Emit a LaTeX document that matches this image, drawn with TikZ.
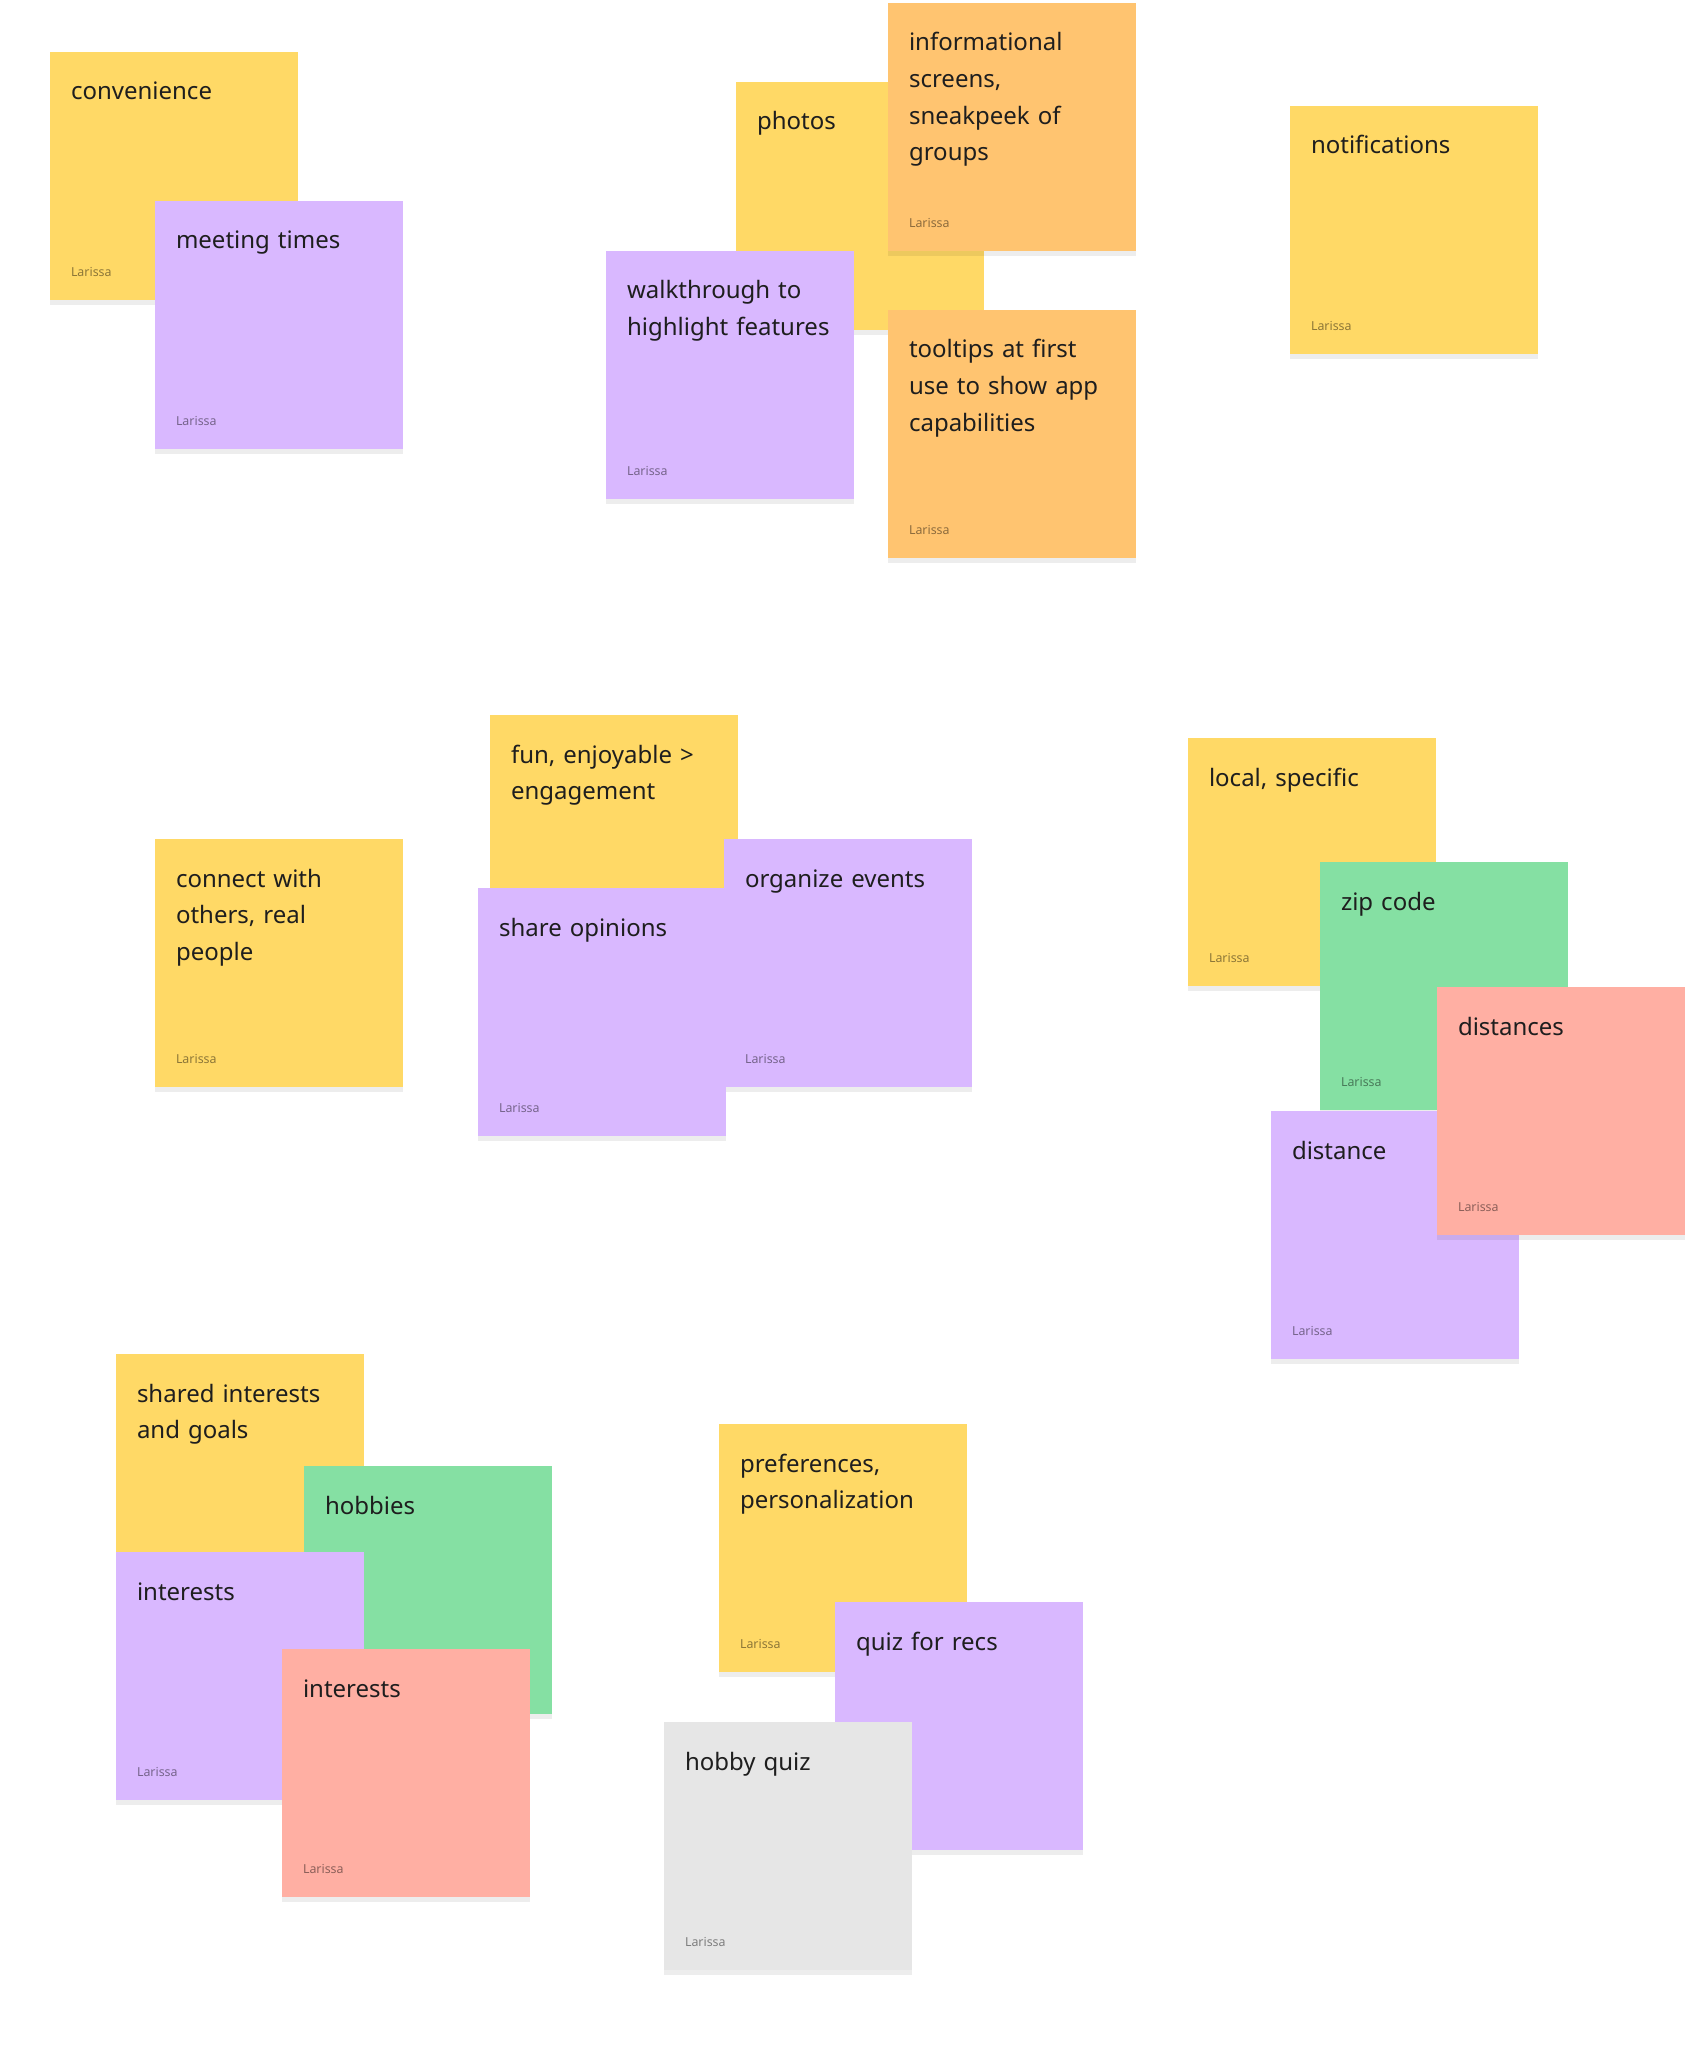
\documentclass[tikz,border=0pt]{standalone}
\usepackage{fontspec}
\setmainfont{Noto Sans}
\usetikzlibrary{shadows}
\definecolor{stickyyellow}{HTML}{FFD966}
\definecolor{stickyorange}{HTML}{FFC470}
\definecolor{stickyviolet}{HTML}{D9B8FF}
\definecolor{stickygreen}{HTML}{85E0A3}
\definecolor{stickyred}{HTML}{FFAFA3}
\definecolor{stickygrey}{HTML}{E6E6E6}
\definecolor{inkdark}{HTML}{1E1E1E}

\begin{document}
\begin{tikzpicture}[x=0.5pt, y=-0.5pt,
      sticky/.style={fill=#1, anchor=north west, inner sep=0pt,
                     minimum width=124pt, minimum height=124pt,
                     drop shadow={shadow xshift=0pt, shadow yshift=-2.5pt,
                                  fill=black, opacity=0.07}},
      title/.style={anchor=base west, inner sep=0pt, xshift=10.3pt, yshift=-24pt,
                    text width=118pt, align=left, text=inkdark,
                    font=\fontsize{12}{18.3}\selectfont},
      author/.style={anchor=base west, inner sep=0pt, xshift=10.3pt, yshift=12pt,
                     font=\fontsize{6.2}{7}\selectfont, text=black, text opacity=0.45}
    ]
    \fill[white] (0,0) rectangle (1696,2048);
    \useasboundingbox (0,0) rectangle (1696,2048);

    % top left
    \node[sticky=stickyyellow, label={[title]north west:{convenience}},
          label={[author]south west:Larissa}] (conv) at (50,52) {};
    \node[sticky=stickyviolet, label={[title]north west:{meeting times}},
          label={[author]south west:Larissa}] (meet) at (155,201) {};

    % top middle
    \node[sticky=stickyyellow, label={[title]north west:{photos}},
          label={[author]south west:Larissa}] (photos) at (736,82) {};
    \node[sticky=stickyorange,
          label={[title]north west:{informational\\screens,\\sneakpeek of\\groups}},
          label={[author]south west:Larissa}] (info) at (888,3) {};
    \node[sticky=stickyviolet,
          label={[title]north west:{walkthrough to\\highlight features}},
          label={[author]south west:Larissa}] (walk) at (606,251) {};
    \node[sticky=stickyorange,
          label={[title]north west:{tooltips at first\\use to show app\\capabilities}},
          label={[author]south west:Larissa}] (tips) at (888,310) {};

    % top right
    \node[sticky=stickyyellow, label={[title]north west:{notifications}},
          label={[author]south west:Larissa}] (notif) at (1290,106) {};

    % middle row
    \node[sticky=stickyyellow,
          label={[title]north west:{connect with\\others, real\\people}},
          label={[author]south west:Larissa}] (connect) at (155,839) {};
    \node[sticky=stickyyellow,
          label={[title]north west:{fun, enjoyable >\\engagement}},
          label={[author]south west:Larissa}] (fun) at (490,715) {};
    \node[sticky=stickyviolet, label={[title]north west:{organize events}},
          label={[author]south west:Larissa}] (events) at (724,839) {};
    \node[sticky=stickyviolet, label={[title]north west:{share opinions}},
          label={[author]south west:Larissa}] (opinions) at (478,888) {};

    % right cluster
    \node[sticky=stickyyellow, label={[title]north west:{local, specific}},
          label={[author]south west:Larissa}] (local) at (1188,738) {};
    \node[sticky=stickygreen, label={[title]north west:{zip code}},
          label={[author]south west:Larissa}] (zip) at (1320,862) {};
    \node[sticky=stickyviolet, label={[title]north west:{distance}},
          label={[author]south west:Larissa}] (dist) at (1271,1111) {};
    \node[sticky=stickyred, label={[title]north west:{distances}},
          label={[author]south west:Larissa}] (dists) at (1437,987) {};

    % bottom left
    \node[sticky=stickyyellow,
          label={[title]north west:{shared interests\\and goals}},
          label={[author]south west:Larissa}] (shared) at (116,1354) {};
    \node[sticky=stickygreen, label={[title]north west:{hobbies}},
          label={[author]south west:Larissa}] (hobbies) at (304,1466) {};
    \node[sticky=stickyviolet, label={[title]north west:{interests}},
          label={[author]south west:Larissa}] (intA) at (116,1552) {};
    \node[sticky=stickyred, label={[title]north west:{interests}},
          label={[author]south west:Larissa}] (intB) at (282,1649) {};

    % bottom middle
    \node[sticky=stickyyellow,
          label={[title]north west:{preferences,\\personalization}},
          label={[author]south west:Larissa}] (prefs) at (719,1424) {};
    \node[sticky=stickyviolet, label={[title]north west:{quiz for recs}},
          label={[author]south west:Larissa}] (recs) at (835,1602) {};
    \node[sticky=stickygrey, label={[title]north west:{hobby quiz}},
          label={[author]south west:Larissa}] (hquiz) at (664,1722) {};
  \end{tikzpicture}
\end{document}
